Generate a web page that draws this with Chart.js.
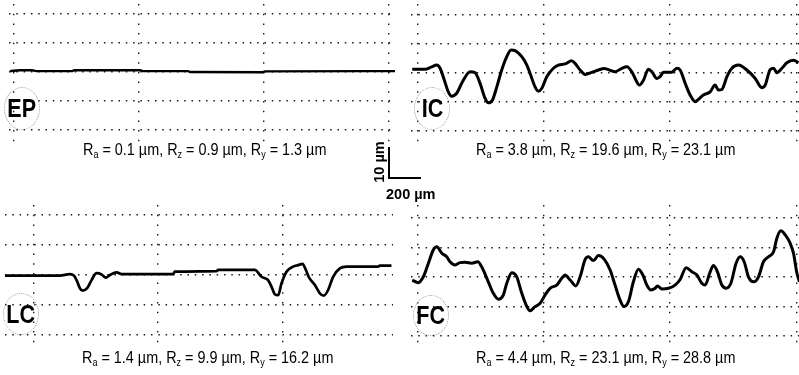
<!DOCTYPE html>
<html>
<head>
<meta charset="utf-8">
<script src="https://cdn.jsdelivr.net/npm/chart.js@4.4.1/dist/chart.umd.min.js"></script>
<style>
html,body{margin:0;padding:0;background:#fff;}
#wrap{position:relative;width:799px;height:375px;overflow:hidden;font-family:"Liberation Sans",Arial,sans-serif;color:#000;}
canvas{position:absolute;left:0;top:0;}
.cap{position:absolute;font-size:16px;line-height:16px;white-space:nowrap;transform-origin:0 0;transform:scaleX(0.9);}
.cap .s{font-size:10px;position:relative;top:3px;}
.lab{position:absolute;border:1px dotted #9a9a9a;border-radius:50%;box-sizing:border-box;display:flex;align-items:center;justify-content:center;}
.lab span{display:inline-block;font-weight:bold;font-size:25px;line-height:25px;transform:scaleX(0.86);}
.bar{position:absolute;background:#000;}
.sl{position:absolute;font-weight:bold;font-size:14.5px;line-height:15px;white-space:nowrap;}
</style>
</head>
<body>
<div id="wrap">
  <canvas id="cEP" width="799" height="375"></canvas>
  <canvas id="cIC" width="799" height="375"></canvas>
  <canvas id="cLC" width="799" height="375"></canvas>
  <canvas id="cFC" width="799" height="375"></canvas>
</div>
<script>
// ---------- data (x in µm along the trace, y = height in µm) ----------
const X_TICKS = [0, 800, 1600, 2400];
const X_TICKS_LC = [0, 800, 1600];
const Y_TICKS = [-20, -10, 0, 10, 20];

const PANEL_NAMES = ['EP', 'IC', 'LC', 'FC'];
const RA = ['0.1', '3.8', '1.4', '4.4'];
const RZ = ['0.9', '19.6', '9.9', '23.1'];
const RY = ['1.3', '23.1', '16.2', '28.8'];
const SCALE_LABELS = ['10 µm', '200 µm'];

const EP_PROFILE = [[-26,0.3],[38,0.6],[115,0.6],[141,0.3],[371,0.3],[384,0.6],[806,0.6],[826,0.3],
  [1114,0.3],[1126,0.0],[1587,-0.1],[1606,0.2],[2438,0.3]];

const IC_PROFILE = [[-32,1.1],[49,1.1],[91,1.9],[123,2.5],[144,1.4],[171,-2.7],[196,-6.7],[218,-8.2],
  [249,-7.2],[291,-2.7],[334,0.2],[365,-0.1],[397,-3.8],[429,-9.0],[449,-10.5],[475,-9.6],[503,-5.0],
  [534,0.8],[566,5.4],[593,7.7],[618,7.5],[661,5.4],[693,2.5],[713,-0.3],[745,-5.0],[766,-6.5],
  [788,-5.5],[819,-1.5],[861,1.4],[893,2.5],[935,2.9],[977,4.0],[998,3.1],[1030,0.8],[1062,-0.7],
  [1104,0.0],[1146,0.8],[1182,1.3],[1251,0.2],[1294,1.4],[1326,1.9],[1357,0.2],[1378,-2.1],[1405,-4.4],
  [1431,-2.7],[1462,1.1],[1484,0.2],[1515,-2.1],[1536,-1.5],[1557,0.0],[1610,0.0],[1642,1.4],[1663,0.8],
  [1695,-3.8],[1726,-7.8],[1758,-10.1],[1779,-9.3],[1810,-7.8],[1853,-6.7],[1884,-4.4],[1905,-6.1],
  [1927,-5.9],[1959,-1.5],[1990,1.4],[2032,2.5],[2085,0.8],[2138,-2.1],[2180,-5.3],[2201,-4.4],
  [2233,1.0],[2254,1.4],[2275,-0.1],[2307,1.4],[2338,3.3],[2380,4.2],[2412,3.3]];

const LC_PROFILE = [[-181,-0.2],[171,-0.2],[235,0.3],[261,-0.2],[282,-2.2],[299,-4.4],[317,-5.2],
  [346,-4.4],[374,-1.7],[406,0.6],[438,0.2],[466,-0.9],[492,0.0],[535,0.9],[567,0.3],[897,0.3],
  [908,1.1],[1176,1.3],[1186,1.7],[1421,1.7],[1464,-0.6],[1506,-1.7],[1528,-3.9],[1549,-6.4],
  [1571,-6.7],[1592,-2.8],[1624,1.1],[1667,2.8],[1699,3.3],[1727,3.7],[1748,1.7],[1769,-0.9],
  [1806,-3.3],[1838,-6.1],[1863,-6.9],[1891,-5.0],[1923,-0.6],[1966,2.2],[2009,2.8],[2212,2.8],
  [2222,3.1],[2297,3.1]];

const FC_PROFILE = [[-32,-1.1],[6,-2.0],[38,0.0],[70,4.6],[101,9.1],[123,10.2],[155,8.0],[186,6.8],
  [207,5.1],[239,4.0],[270,4.8],[302,4.9],[344,4.6],[382,5.1],[412,2.9],[449,-1.7],[481,-5.6],
  [513,-7.6],[544,-6.2],[566,-2.2],[598,1.4],[629,0.0],[661,-5.6],[693,-10.1],[713,-11.5],[745,-10.1],
  [777,-9.0],[808,-6.2],[840,-3.9],[882,-2.8],[914,-0.5],[935,0.6],[967,-1.1],[1003,-3.1],[1030,0.0],
  [1062,5.9],[1082,6.8],[1114,5.5],[1146,7.2],[1182,6.0],[1220,2.3],[1251,-2.8],[1283,-7.9],
  [1308,-10.1],[1336,-8.4],[1367,-1.7],[1399,2.6],[1427,0.6],[1452,-2.8],[1477,-4.5],[1505,-3.9],
  [1519,-3.1],[1547,-4.1],[1589,-3.9],[1631,-2.8],[1663,-0.9],[1701,3.1],[1737,1.7],[1769,0.6],
  [1800,-2.2],[1821,-2.8],[1853,1.7],[1874,3.8],[1899,1.7],[1927,-2.8],[1954,-3.9],[1984,-2.2],
  [2017,4.6],[2043,6.8],[2068,5.1],[2095,0.0],[2127,-1.7],[2159,0.0],[2190,5.1],[2222,6.8],
  [2254,8.5],[2275,13.1],[2300,15.6],[2328,14.2],[2359,11.4],[2380,8.0],[2402,1.2],[2418,-1.7]];

// ---------- charts ----------
Chart.defaults.font.family = '"Liberation Sans", Arial, sans-serif';

function axis(min, max, ticks, dash) {
  return {
    type: 'linear', min: min, max: max,
    ticks: { display: false },
    grid: { color: '#1a1a1a', lineWidth: 1.4, drawTicks: false },
    border: { display: false, dash: dash },
    afterBuildTicks: s => { s.ticks = ticks.map(v => ({ value: v })); }
  };
}

function makePanel(id, profile, xr, yr, pad, xticks, lw) {
  return new Chart(document.getElementById(id), {
    type: 'line',
    data: {
      datasets: [{
        data: profile.map(p => ({ x: p[0], y: p[1] })),
        borderColor: '#000', borderWidth: lw, pointRadius: 0,
        cubicInterpolationMode: 'monotone', fill: false
      }]
    },
    options: {
      responsive: false, animation: false, devicePixelRatio: 1, events: [],
      layout: { padding: pad },
      plugins: { legend: { display: false }, tooltip: { enabled: false } },
      scales: {
        x: axis(xr[0], xr[1], xticks, [1.5, 8.2]),
        y: axis(yr[0], yr[1], Y_TICKS, [1.5, 5.8])
      }
    }
  });
}

makePanel('cEP', EP_PROFILE, [-32, 2438], [-24.1, 23.4], { left: 9, right: 404, top: 4, bottom: 233 }, X_TICKS, 2.3);
makePanel('cIC', IC_PROFILE, [-40, 2415], [-24.0, 23.55], { left: 411, right: 0, top: 4, bottom: 233 }, X_TICKS, 3);
makePanel('cLC', LC_PROFILE, [-181, 2307], [-23.67, 23.33], { left: 5, right: 406, top: 205, bottom: 29 }, X_TICKS_LC, 2.7);
makePanel('cFC', FC_PROFILE, [-40, 2415], [-23.8, 24.34], { left: 411, right: 0, top: 205, bottom: 28 }, X_TICKS, 3);

// ---------- text & annotations ----------
const wrap = document.getElementById('wrap');
function el(cls, html, css) {
  const d = document.createElement('div');
  d.className = cls; d.innerHTML = html;
  Object.assign(d.style, css);
  wrap.appendChild(d);
  return d;
}
const capPos = [[83, 142], [476, 142], [82, 350], [476, 350]];
const labPos = [[4, 87, 36, 43], [414, 87, 36, 43], [3, 293, 36, 42], [413, 295, 36, 41]];
PANEL_NAMES.forEach((n, i) => {
  el('cap', 'R<span class="s">a</span> = ' + RA[i] + ' µm, R<span class="s">z</span> = ' + RZ[i] +
     ' µm, R<span class="s">y</span> = ' + RY[i] + ' µm',
     { left: capPos[i][0] + 'px', top: capPos[i][1] + 'px' });
  el('lab', '<span>' + n + '</span>',
     { left: labPos[i][0] + 'px', top: labPos[i][1] + 'px', width: labPos[i][2] + 'px', height: labPos[i][3] + 'px' });
});
// scale bar
el('bar', '', { left: '388px', top: '147px', width: '2px', height: '32px' });
el('bar', '', { left: '388px', top: '177px', width: '33px', height: '2px' });
el('sl', SCALE_LABELS[0], { left: '379px', top: '162px', transform: 'translate(-50%,-50%) rotate(-90deg)' });
el('sl', SCALE_LABELS[1], { left: '386px', top: '187px' });
</script>
</body>
</html>
